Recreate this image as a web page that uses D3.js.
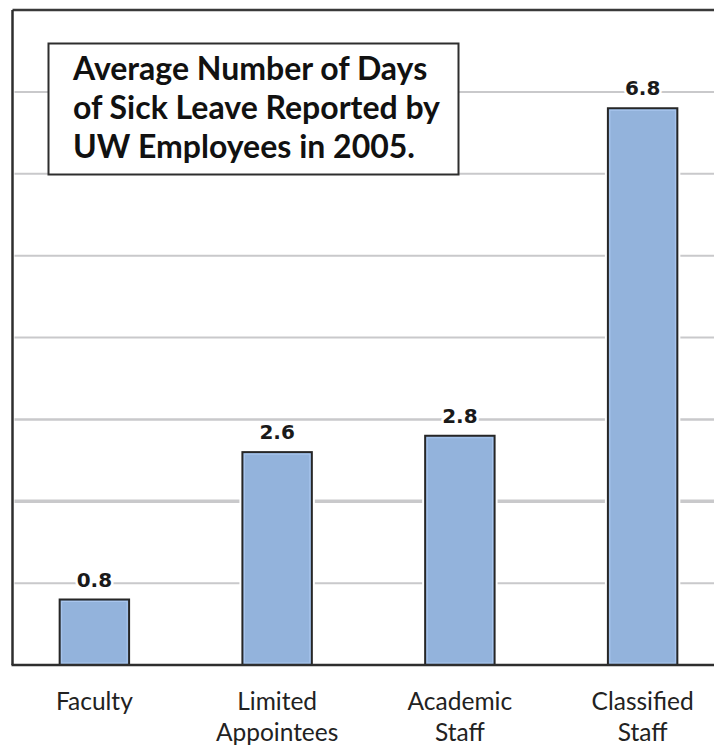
<!DOCTYPE html>
<html>
<head>
<meta charset="utf-8">
<script src="https://cdn.jsdelivr.net/npm/d3@7"></script>
<style>
  html, body { margin: 0; padding: 0; background: #fff; }
  svg { display: block; }
</style>
</head>
<body>
<svg id="chart" width="714" height="746"></svg>
<script>
// ---- data ----
const categories = ["Faculty", "Limited\nAppointees", "Academic\nStaff", "Classified\nStaff"];
const values = [0.8, 2.6, 2.8, 6.8];
const valueLabels = ["0.8", "2.6", "2.8", "6.8"];
const gridValues = [1, 2, 3, 4, 5, 6, 7];
const titleLines = ["Average Number of Days", "of Sick Leave Reported by", "UW Employees in 2005."];

// ---- layout ----
const svg = d3.select("#chart");
const plotLeft = 12.5, plotRight = 714, plotTop = 10, plotBottom = 665;

const x = d3.scaleBand()
  .domain(categories)
  .range([3, 734])
  .paddingInner(0.62)
  .paddingOuter(0.31);

const y = d3.scaleLinear().domain([0, 8]).range([plotBottom, plotTop]);

const font = "Lato, 'Open Sans', sans-serif";

// gridlines
svg.append("g")
  .selectAll("line")
  .data(gridValues)
  .join("line")
  .attr("x1", plotLeft + 2)
  .attr("x2", plotRight)
  .attr("y1", d => y(d))
  .attr("y2", d => y(d))
  .attr("stroke", "#c9c9cb")
  .attr("stroke-width", d => d === 2 ? 3.5 : (d === 3 ? 2.5 : 2));

// frame: top and left
svg.append("line")
  .attr("x1", plotLeft).attr("x2", plotRight)
  .attr("y1", y(8)).attr("y2", y(8))
  .attr("stroke", "#3a3a3a").attr("stroke-width", 2.5);
svg.append("line")
  .attr("x1", plotLeft).attr("x2", plotLeft)
  .attr("y1", y(8)).attr("y2", y(0))
  .attr("stroke", "#2e2e2e").attr("stroke-width", 2.5);

// bar halos (white gap around bars)
svg.append("g")
  .selectAll("rect")
  .data(values)
  .join("rect")
  .attr("x", (d, i) => x(categories[i]) - 3)
  .attr("width", x.bandwidth() + 6)
  .attr("y", d => y(d) - 3)
  .attr("height", d => y(0) - y(d) + 3)
  .attr("fill", "#fff");

// bars
svg.append("g")
  .selectAll("rect")
  .data(values)
  .join("rect")
  .attr("x", (d, i) => x(categories[i]))
  .attr("width", x.bandwidth())
  .attr("y", d => y(d))
  .attr("height", d => y(0) - y(d))
  .attr("fill", "#93b3dc")
  .attr("stroke", "#262626")
  .attr("stroke-width", 2);

// inner light edge
svg.append("g")
  .selectAll("rect")
  .data(values)
  .join("rect")
  .attr("x", (d, i) => x(categories[i]) + 2)
  .attr("width", x.bandwidth() - 4)
  .attr("y", d => y(d) + 2)
  .attr("height", d => y(0) - y(d) - 4)
  .attr("fill", "none")
  .attr("stroke", "#a9c6ee")
  .attr("stroke-width", 1);

// baseline
svg.append("line")
  .attr("x1", plotLeft - 1).attr("x2", plotRight)
  .attr("y1", y(0)).attr("y2", y(0))
  .attr("stroke", "#2e2e2e").attr("stroke-width", 2.5);

// value labels
svg.append("g")
  .selectAll("text")
  .data(values)
  .join("text")
  .attr("x", (d, i) => x(categories[i]) + x.bandwidth() / 2)
  .attr("y", d => y(d) - 13)
  .attr("text-anchor", "middle")
  .attr("font-family", "'DejaVu Sans', sans-serif")
  .attr("font-weight", "bold")
  .attr("font-size", 20)
  .attr("fill", "#1a1a1a")
  .attr("stroke", "#fff")
  .attr("stroke-width", 5)
  .attr("paint-order", "stroke")
  .text((d, i) => valueLabels[i]);

// category labels
const catG = svg.append("g");
categories.forEach((c, i) => {
  const t = catG.append("text")
    .attr("x", x(c) + x.bandwidth() / 2)
    .attr("y", 710)
    .attr("text-anchor", "middle")
    .attr("font-family", font)
    .attr("font-size", 24.5)
    .attr("fill", "#222");
  c.split("\n").forEach((line, j) => {
    t.append("tspan")
      .attr("x", x(c) + x.bandwidth() / 2)
      .attr("dy", j === 0 ? 0 : 31)
      .text(line);
  });
});

// title box
svg.append("rect")
  .attr("x", 48.5).attr("y", 43.5)
  .attr("width", 410).attr("height", 131)
  .attr("fill", "#fff")
  .attr("stroke", "#2e2e2e")
  .attr("stroke-width", 2);

const title = svg.append("text")
  .attr("font-family", font)
  .attr("font-weight", "bold")
  .attr("font-size", 32)
  .attr("fill", "#111");
titleLines.forEach((line, j) => {
  title.append("tspan")
    .attr("x", 73)
    .attr("y", 80 + j * 39)
    .text(line);
});
</script>
</body>
</html>
